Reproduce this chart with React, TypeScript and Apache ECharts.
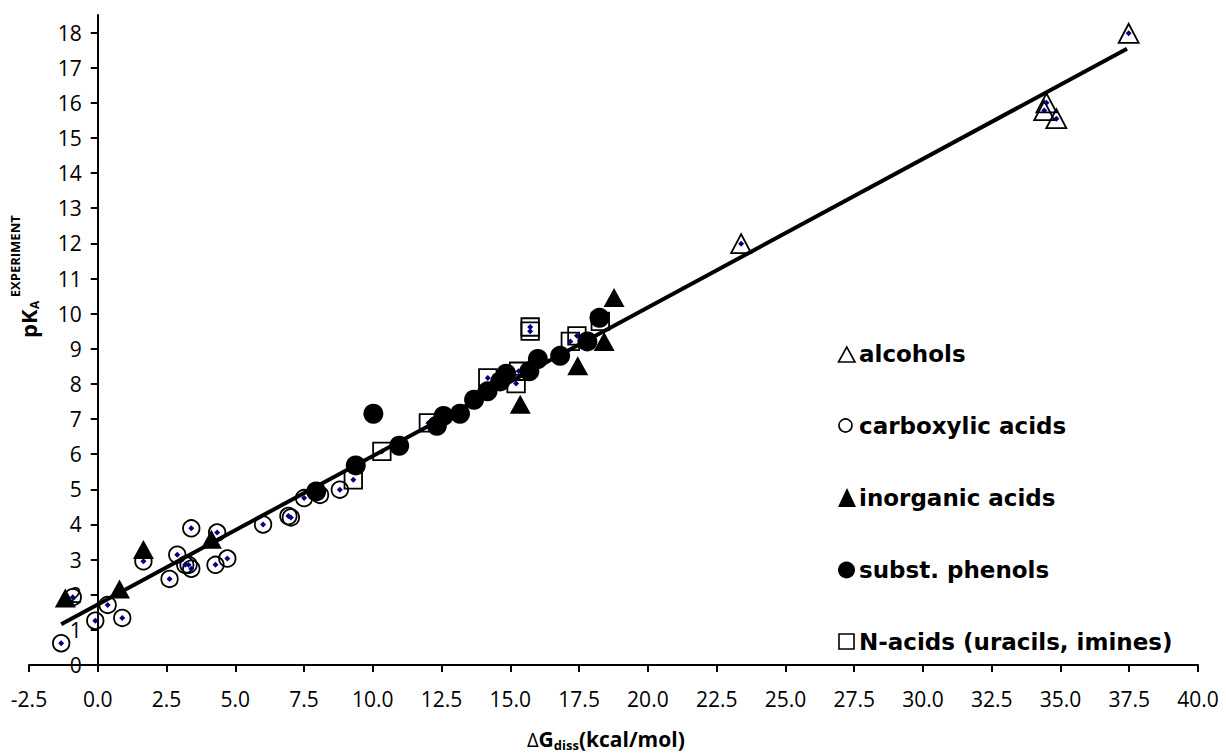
import React, { useEffect, useRef } from "react";
import * as echarts from "echarts";

// ---- tick labels ----
const X_TICKS = [-2.5, 0, 2.5, 5, 7.5, 10, 12.5, 15, 17.5, 20, 22.5, 25, 27.5, 30, 32.5, 35, 37.5, 40];
const Y_TICKS = [0, 1, 2, 3, 4, 5, 6, 7, 8, 9, 10, 11, 12, 13, 14, 15, 16, 17, 18];

// ---- data: [ΔG_diss (kcal/mol), pKa experiment] ----
const ALCOHOLS: number[][] = [
  [23.39, 11.99], [34.41, 15.78], [34.49, 16.0], [34.85, 15.55], [37.48, 17.98],
];
const CARBOXYLIC_ACIDS: number[][] = [
  [-1.33, 0.62], [-0.91, 1.93], [-0.09, 1.26], [0.36, 1.71], [0.89, 1.34],
  [1.66, 2.95], [2.61, 2.45], [2.89, 3.14], [3.18, 2.85], [3.3, 2.85],
  [3.4, 2.74], [3.4, 3.89], [4.34, 3.77], [4.28, 2.85], [4.71, 3.03],
  [6.01, 4.0], [6.93, 4.24], [7.02, 4.2], [7.5, 4.75], [8.08, 4.84], [8.8, 4.99],
];
const INORGANIC_ACIDS: number[][] = [
  [-1.18, 1.91], [0.79, 2.16], [1.66, 3.29], [4.13, 3.58],
  [15.36, 7.42], [17.45, 8.52], [18.41, 9.21], [18.77, 10.46],
];
const SUBST_PHENOLS: number[][] = [
  [7.94, 4.94], [9.38, 5.68], [10.02, 7.15], [10.96, 6.24], [12.33, 6.81],
  [12.57, 7.09], [13.17, 7.15], [13.68, 7.55], [14.17, 7.79], [14.63, 8.07],
  [14.85, 8.29], [15.69, 8.36], [16.0, 8.71], [16.81, 8.8], [17.8, 9.21], [18.24, 9.88],
];
const N_ACIDS: number[][] = [
  [9.29, 5.27], [10.33, 6.08], [12.02, 6.89], [14.18, 8.17], [15.21, 8.01],
  [15.3, 8.36], [15.72, 9.62], [15.72, 9.5], [17.18, 9.21], [17.42, 9.37], [18.27, 9.78],
];
const FIT_LINE: number[][] = [[-1.33, 1.16], [37.42, 17.54]];

const LEGEND_LABELS = [
  "alcohols",
  "carboxylic acids",
  "inorganic acids",
  "subst. phenols",
  "N-acids (uracils, imines)",
];

const TICK_FONT = '"Open Sans"';
const TITLE_FONT = '"Open Sans"';
const LEGEND_FONT = '"DejaVu Sans"';

const CHART_W = 1226;
const GRID_LEFT = 29;
const GRID_RIGHT = 28;

function tw(text: string, size: number, weight: string, family: string): number {
  const c = document.createElement("canvas").getContext("2d");
  if (!c) return text.length * size * 0.6;
  c.font = `${weight} ${size}px ${family}`;
  return c.measureText(text).width;
}

function buildGraphics(): any[] {
  const g: any[] = [];

  // y axis title: pK_A ^EXPERIMENT, rotated
  const wPK = tw("pK", 22, "bold", TITLE_FONT);
  const wA = tw("A", 12, "bold", TITLE_FONT);
  g.push({
    type: "group",
    x: 36,
    y: 338,
    rotation: Math.PI / 2,
    children: [
      {
        type: "text",
        x: 0,
        y: -8,
        style: { text: "pK", fontSize: 22, fontWeight: "bold", fontFamily: TITLE_FONT, fill: "#000", align: "left", verticalAlign: "middle" },
      },
      {
        type: "text",
        x: wPK + 0.5,
        y: -2,
        style: { text: "A", fontSize: 12, fontWeight: "bold", fontFamily: TITLE_FONT, fill: "#000", align: "left", verticalAlign: "middle" },
      },
      {
        type: "text",
        x: wPK + wA + 4,
        y: -21,
        style: { text: "EXPERIMENT", fontSize: 13, fontWeight: "bold", fontFamily: TITLE_FONT, fill: "#000", align: "left", verticalAlign: "middle" },
      },
    ],
  });

  // x axis title: ΔG_diss(kcal/mol)
  const wD = tw("\u0394", 20, "normal", TITLE_FONT);
  const wG = tw("G", 21, "bold", TITLE_FONT);
  const wDiss = tw("diss", 13, "bold", TITLE_FONT);
  const x0 = 527;
  g.push({
    type: "group",
    x: x0,
    y: 739,
    children: [
      { type: "text", x: 0, y: 0, style: { text: "\u0394", fontSize: 20, fontWeight: "normal", fontFamily: TITLE_FONT, fill: "#000", align: "left", verticalAlign: "middle" } },
      { type: "text", x: wD, y: 0, style: { text: "G", fontSize: 21, fontWeight: "bold", fontFamily: TITLE_FONT, fill: "#000", align: "left", verticalAlign: "middle" } },
      { type: "text", x: wD + wG, y: 6, style: { text: "diss", fontSize: 13, fontWeight: "bold", fontFamily: TITLE_FONT, fill: "#000", align: "left", verticalAlign: "middle" } },
      { type: "text", x: wD + wG + wDiss, y: 0, style: { text: "(kcal/mol)", fontSize: 21, fontWeight: "bold", fontFamily: TITLE_FONT, fill: "#000", align: "left", verticalAlign: "middle" } },
    ],
  });

  // legend
  const rowY = [354, 425.5, 497.5, 569.5, 641.5];
  const textX = 859;
  const symbols: any[] = [
    { type: "polygon", shape: { points: [[838.5, 362], [855, 362], [846.75, 347]] }, style: { fill: "none", stroke: "#000", lineWidth: 1.6 } },
    { type: "circle", shape: { cx: 845.5, cy: 425.5, r: 6.5 }, style: { fill: "none", stroke: "#000", lineWidth: 1.6 } },
    { type: "polygon", shape: { points: [[838, 507], [856, 507], [847, 488]] }, style: { fill: "#000", stroke: "none" } },
    { type: "circle", shape: { cx: 846.5, cy: 570, r: 8.5 }, style: { fill: "#000", stroke: "none" } },
    { type: "rect", shape: { x: 839, y: 634, width: 15, height: 15 }, style: { fill: "none", stroke: "#000", lineWidth: 1.6 } },
  ];
  LEGEND_LABELS.forEach((label, i) => {
    g.push(symbols[i]);
    g.push({
      type: "text",
      x: textX,
      y: rowY[i],
      style: { text: label, fontSize: 23, fontWeight: "bold", fontFamily: LEGEND_FONT, fill: "#000", align: "left", verticalAlign: "middle" },
    });
  });
  return g;
}

const openStyle = { color: "rgba(0,0,0,0)", borderColor: "#000", borderWidth: 1.8, opacity: 1 };

export default function App() {
  const ref = useRef<HTMLDivElement>(null);
  useEffect(() => {
    if (!ref.current) return;
    const chart = echarts.init(ref.current, null, { renderer: "svg" });
    const xMin = X_TICKS[0];
    const xMax = X_TICKS[X_TICKS.length - 1];
    const gridW = CHART_W - GRID_LEFT - GRID_RIGHT;
    // shift the y axis so it sits at x = 0
    const yAxisOffset = -((0 - xMin) / (xMax - xMin)) * gridW;
    const option: any = {
      animation: false,
      backgroundColor: "#fff",
      grid: { left: GRID_LEFT, right: GRID_RIGHT, top: 15, bottom: 89, containLabel: false, outerBoundsMode: "none" },
      xAxis: {
        type: "value",
        min: xMin,
        max: xMax,
        interval: 2.5,
        splitLine: { show: false },
        axisLine: { show: true, onZero: false, lineStyle: { color: "#000", width: 2 } },
        axisTick: { show: true, length: 7, lineStyle: { color: "#000", width: 2 }, customValues: X_TICKS },
        axisLabel: {
          customValues: X_TICKS,
          formatter: (v: number) => v.toFixed(1),
          fontFamily: TICK_FONT,
          fontSize: 21,
          color: "#000",
          margin: 23,
        },
      },
      yAxis: {
        type: "value",
        min: 0,
        max: 18.5,
        interval: 1,
        position: "left",
        offset: yAxisOffset,
        splitLine: { show: false },
        axisLine: { show: true, onZero: false, lineStyle: { color: "#000", width: 2 } },
        axisTick: { show: true, length: 7, lineStyle: { color: "#000", width: 2 }, customValues: Y_TICKS },
        axisLabel: {
          customValues: Y_TICKS,
          formatter: (v: number) => String(v),
          fontFamily: TICK_FONT,
          fontSize: 21,
          color: "#000",
          margin: 16,
        },
      },
      series: [
        { name: "carboxylic acids", type: "scatter", data: CARBOXYLIC_ACIDS, symbol: "circle", symbolSize: 16.5, itemStyle: openStyle, z: 2, emphasis: { disabled: true } },
        { name: "alcohols", type: "scatter", data: ALCOHOLS, symbol: "triangle", symbolSize: [20, 19], itemStyle: openStyle, z: 2, emphasis: { disabled: true } },
        { name: "N-acids (uracils, imines)", type: "scatter", data: N_ACIDS, symbol: "rect", symbolSize: 17.5, itemStyle: openStyle, z: 2, emphasis: { disabled: true } },
        {
          name: "points",
          type: "scatter",
          data: [...CARBOXYLIC_ACIDS, ...ALCOHOLS, ...N_ACIDS],
          symbol: "diamond",
          symbolSize: 6,
          itemStyle: { color: "#000080", opacity: 1 },
          z: 3,
          emphasis: { disabled: true },
        },
        {
          name: "fit",
          type: "line",
          data: FIT_LINE,
          symbol: "none",
          lineStyle: { color: "#000", width: 4, opacity: 1 },
          z: 4,
          emphasis: { disabled: true },
        },
        { name: "inorganic acids", type: "scatter", data: INORGANIC_ACIDS, symbol: "triangle", symbolSize: [21, 19], itemStyle: { color: "#000", opacity: 1 }, z: 5, emphasis: { disabled: true } },
        { name: "subst. phenols", type: "scatter", data: SUBST_PHENOLS, symbol: "circle", symbolSize: 20, itemStyle: { color: "#000", opacity: 1 }, z: 5, emphasis: { disabled: true } },
      ],
      graphic: buildGraphics(),
    };
    chart.setOption(option);
    return () => chart.dispose();
  }, []);
  return (
    <div
      ref={ref}
      style={{ position: "absolute", left: 0, top: 0, width: CHART_W, height: 754, background: "#fff" }}
    />
  );
}
